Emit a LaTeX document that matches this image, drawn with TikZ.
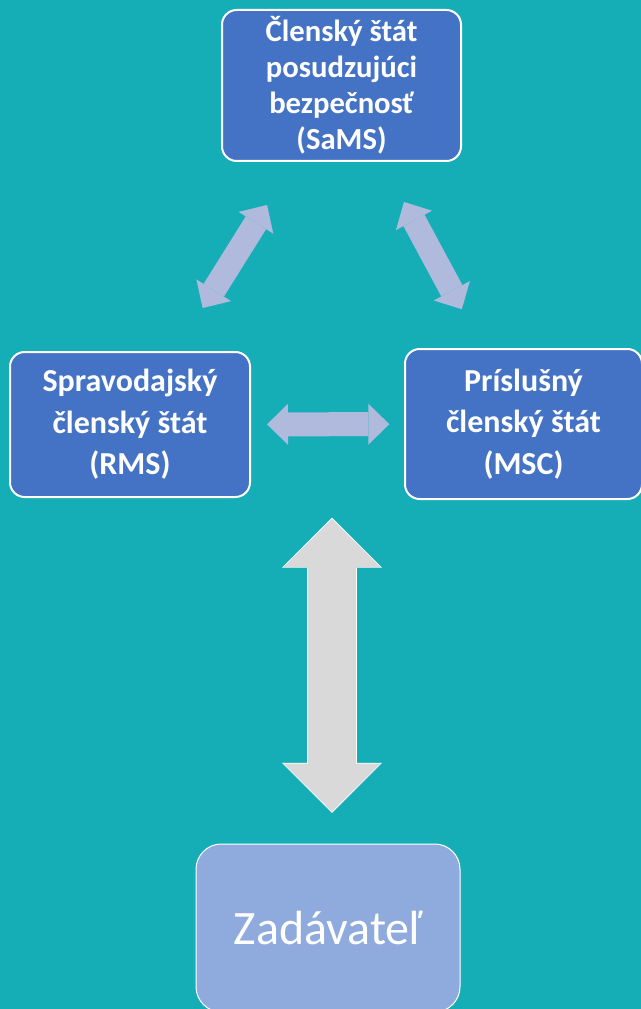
\documentclass[tikz,border=0pt]{standalone}
\usepackage{fontspec}
\setmainfont{Carlito}
\usetikzlibrary{arrows.meta}
\definecolor{bgteal}{HTML}{15AEB7}
\definecolor{boxblue}{HTML}{4472C4}
\definecolor{applblue}{HTML}{8FAADC}
\definecolor{linkblue}{HTML}{AFBADD}
\definecolor{linkgray}{HTML}{D9D9D9}
\tikzset{
  state/.style={draw=white, line width=1.5pt, fill=boxblue, rounded corners=11pt,
    text=white, align=center, inner sep=0pt},
  link/.style={linkblue, line width=18pt,
    {Triangle[width=30.75pt,length=15.75pt,line width=0pt]}-{Triangle[width=30.75pt,length=15.75pt,line width=0pt]}},
  biglink/.style={linkgray, line width=36pt,
    {Triangle[width=72.75pt,length=36pt,line width=0pt]}-{Triangle[width=72.75pt,length=36pt,line width=0pt]}},
}
\begin{document}
\begin{tikzpicture}[x=0.75pt,y=-0.75pt]
    \useasboundingbox (0,0) rectangle (641,1009);
    \fill[bgteal] (0,0) rectangle (641,1009);
    \node[state, minimum width=179.25pt, minimum height=113.25pt,
      font=\bfseries\fontsize{23}{27}\selectfont] (sams) at (341.5,85.5)
      {Členský štát\\posudzujúci\\bezpečnosť\\(SaMS)};
    \node[state, minimum width=180pt, minimum height=108.75pt,
      font=\bfseries\fontsize{24}{31}\selectfont] (rms) at (130,424.5)
      {Spravodajský\\členský štát\\(RMS)};
    \node[state, minimum width=177.75pt, minimum height=112.5pt,
      font=\bfseries\fontsize{24}{31}\selectfont] (msc) at (523.5,424)
      {Príslušný\\členský štát\\(MSC)};
    \node[draw=white, line width=0.75pt, fill=applblue, rounded corners=19pt,
      minimum width=198pt, minimum height=126pt, text=white,
      font=\fontsize{36}{44}\selectfont] (zad) at (328,928) {Zadávateľ};
    \coordinate (vtop) at (332,519);
    \draw[link, shorten <=38pt, shorten >=38pt] (rms) -- (sams);
    \draw[link, shorten <=34pt, shorten >=33pt] (sams) -- (msc);
    \draw[link, shorten <=12pt, shorten >=11pt] (rms) -- (msc);
    \draw[white, line width=37.5pt, shorten <=-1pt, shorten >=23pt,
      {Triangle[width=75pt,length=37.5pt,line width=0pt]}-{Triangle[width=75pt,length=37.5pt,line width=0pt]}]
      (vtop) -- (vtop |- zad.north);
    \draw[biglink, shorten >=24pt] (vtop) -- (vtop |- zad.north);
\end{tikzpicture}
\end{document}
